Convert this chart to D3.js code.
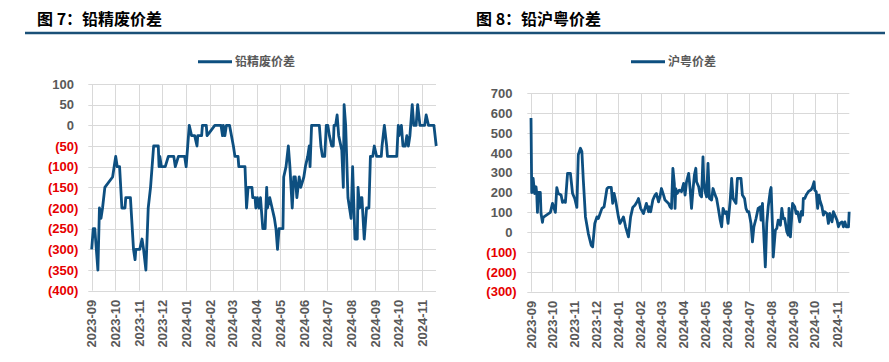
<!DOCTYPE html>
<html><head><meta charset="utf-8">
<script src="https://cdn.jsdelivr.net/npm/d3@7/dist/d3.min.js"></script>
<style>
html,body{margin:0;padding:0;background:#fff;}
svg{display:block;}
</style></head>
<body>
<svg id="c" width="889" height="362"></svg>
<script>
// ---------- DATA ----------
const titles = ["图 7：铅精废价差", "图 8：铅沪粤价差"];
const legendNames = ["铅精废价差", "沪粤价差"];
const monthLabels = ["2023-09","2023-10","2023-11","2023-12","2024-01","2024-02","2024-03","2024-04","2024-05","2024-06","2024-07","2024-08","2024-09","2024-10","2024-11"];
const leftTicks = [100,50,0,-50,-100,-150,-200,-250,-300,-350,-400];
const rightTicks = [700,600,500,400,300,200,100,0,-100,-200,-300];

const leftSeries = [
["2023-09-01",-300],["2023-09-03",-250],["2023-09-05",-250],["2023-09-09",-350],["2023-09-11",-200],
["2023-09-13",-225],["2023-09-15",-200],["2023-09-18",-150],["2023-09-28",-125],["2023-09-30",-100],
["2023-10-02",-75],["2023-10-04",-100],["2023-10-07",-100],["2023-10-10",-200],["2023-10-14",-200],
["2023-10-15",-175],["2023-10-21",-175],["2023-10-25",-300],["2023-10-27",-325],["2023-10-28",-300],
["2023-11-02",-300],["2023-11-05",-275],["2023-11-07",-300],["2023-11-10",-350],["2023-11-13",-200],
["2023-11-16",-150],["2023-11-20",-50],["2023-11-26",-50],["2023-11-27",-100],["2023-11-28",-75],
["2023-11-30",-100],["2023-12-05",-100],["2023-12-09",-75],["2023-12-16",-75],["2023-12-18",-100],
["2023-12-22",-75],["2023-12-30",-75],["2024-01-01",-100],["2024-01-05",0],["2024-01-08",-25],
["2024-01-12",-25],["2024-01-15",-50],["2024-01-16",-25],["2024-01-21",-25],["2024-01-22",0],
["2024-01-27",0],["2024-01-28",-25],["2024-02-01",-15],["2024-02-07",0],["2024-02-15",0],
["2024-02-17",-25],["2024-02-18",0],["2024-02-20",-25],["2024-02-22",0],["2024-02-26",0],
["2024-03-02",-50],["2024-03-04",-75],["2024-03-08",-75],["2024-03-09",-100],["2024-03-17",-100],
["2024-03-19",-200],["2024-03-21",-150],["2024-03-26",-150],["2024-03-27",-175],["2024-03-30",-175],
["2024-03-31",-200],["2024-04-02",-175],["2024-04-04",-200],["2024-04-06",-175],["2024-04-08",-225],
["2024-04-09",-250],["2024-04-12",-250],["2024-04-14",-150],["2024-04-15",-200],["2024-04-18",-175],
["2024-04-24",-225],["2024-04-26",-250],["2024-04-28",-300],["2024-04-30",-250],["2024-05-05",-250],
["2024-05-06",-125],["2024-05-09",-100],["2024-05-12",-50],["2024-05-14",-100],["2024-05-17",-200],
["2024-05-19",-125],["2024-05-21",-125],["2024-05-23",-175],["2024-05-26",-125],["2024-05-28",-150],
["2024-06-01",-125],["2024-06-03",-100],["2024-06-06",-75],["2024-06-08",-50],["2024-06-09",-100],
["2024-06-11",0],["2024-06-21",0],["2024-06-23",-50],["2024-06-25",-75],["2024-06-28",-75],
["2024-06-30",0],["2024-07-02",0],["2024-07-04",-25],["2024-07-07",-50],["2024-07-09",-50],
["2024-07-10",0],["2024-07-12",0],["2024-07-14",25],["2024-07-16",-25],["2024-07-20",-60],
["2024-07-22",-150],["2024-07-23",50],["2024-07-25",0],["2024-07-28",-175],["2024-07-30",-200],
["2024-08-01",-225],["2024-08-03",-100],["2024-08-06",-275],["2024-08-09",-275],["2024-08-10",-150],
["2024-08-12",-200],["2024-08-14",-175],["2024-08-15",-175],["2024-08-18",-275],["2024-08-21",-200],
["2024-08-24",-200],["2024-08-26",-75],["2024-08-29",-75],["2024-08-31",-50],["2024-09-03",-75],
["2024-09-09",-75],["2024-09-10",-50],["2024-09-13",0],["2024-09-16",-50],["2024-09-17",-75],
["2024-09-29",-75],["2024-10-01",0],["2024-10-02",-25],["2024-10-05",0],["2024-10-07",-50],
["2024-10-10",-50],["2024-10-12",-25],["2024-10-14",-50],["2024-10-16",-25],["2024-10-19",50],
["2024-10-21",0],["2024-10-24",0],["2024-10-26",50],["2024-10-29",0],["2024-11-04",0],
["2024-11-06",25],["2024-11-09",0],["2024-11-16",0],["2024-11-19",-50]
];

const rightSeries = [
["2023-09-01",575],["2023-09-02",200],["2023-09-04",271],["2023-09-06",195],["2023-09-08",229],
["2023-09-09",195],["2023-09-10",100],["2023-09-11",200],["2023-09-14",200],["2023-09-15",94],
["2023-09-17",50],["2023-09-18",75],["2023-09-28",100],["2023-10-01",145],["2023-10-05",100],
["2023-10-07",225],["2023-10-09",195],["2023-10-13",187],["2023-10-15",150],["2023-10-18",160],
["2023-10-19",150],["2023-10-22",296],["2023-10-26",296],["2023-10-29",195],["2023-11-01",170],
["2023-11-04",125],["2023-11-06",390],["2023-11-09",423],["2023-11-11",406],["2023-11-13",263],
["2023-11-16",77],["2023-11-20",-7],["2023-11-24",-66],["2023-11-26",-74],["2023-11-29",44],
["2023-12-02",77],["2023-12-04",69],["2023-12-09",120],["2023-12-12",128],["2023-12-16",220],
["2023-12-18",226],["2023-12-22",226],["2023-12-24",145],["2023-12-26",195],["2023-12-28",162],
["2024-01-01",77],["2024-01-03",44],["2024-01-07",69],["2024-01-08",77],["2024-01-11",27],
["2024-01-15",-24],["2024-01-18",77],["2024-01-21",125],["2024-01-24",136],["2024-01-27",153],
["2024-01-29",170],["2024-02-01",120],["2024-02-05",94],["2024-02-07",120],["2024-02-09",145],
["2024-02-12",103],["2024-02-13",128],["2024-02-15",103],["2024-02-18",162],["2024-02-21",187],
["2024-02-23",195],["2024-02-26",153],["2024-02-28",178],["2024-03-01",220],["2024-03-04",187],
["2024-03-06",162],["2024-03-11",145],["2024-03-13",128],["2024-03-15",120],["2024-03-17",322],
["2024-03-19",246],["2024-03-20",120],["2024-03-21",220],["2024-03-23",195],["2024-03-26",212],
["2024-03-29",204],["2024-04-01",246],["2024-04-03",187],["2024-04-05",254],["2024-04-08",296],
["2024-04-10",220],["2024-04-12",120],["2024-04-14",212],["2024-04-16",288],["2024-04-18",322],
["2024-04-19",254],["2024-04-22",229],["2024-04-24",187],["2024-04-26",178],["2024-04-28",380],
["2024-04-29",263],["2024-05-01",204],["2024-05-03",178],["2024-05-05",347],["2024-05-07",170],
["2024-05-10",162],["2024-05-12",220],["2024-05-15",187],["2024-05-17",170],["2024-05-19",128],
["2024-05-22",61],["2024-05-24",27],["2024-05-26",120],["2024-05-29",94],["2024-05-31",103],
["2024-06-02",44],["2024-06-05",162],["2024-06-07",271],["2024-06-09",170],["2024-06-13",145],
["2024-06-15",271],["2024-06-18",271],["2024-06-20",271],["2024-06-22",187],["2024-06-25",170],
["2024-06-27",120],["2024-06-29",103],["2024-07-01",103],["2024-07-04",44],["2024-07-06",-49],
["2024-07-08",27],["2024-07-11",69],["2024-07-14",120],["2024-07-17",128],["2024-07-18",61],
["2024-07-20",145],["2024-07-21",52],["2024-07-24",-175],["2024-07-26",44],["2024-07-28",128],
["2024-07-31",212],["2024-08-01",225],["2024-08-03",27],["2024-08-04",-125],["2024-08-07",10],
["2024-08-09",19],["2024-08-11",61],["2024-08-14",35],["2024-08-16",120],["2024-08-18",69],
["2024-08-20",69],["2024-08-23",2],["2024-08-25",-15],["2024-08-26",120],["2024-08-28",-24],
["2024-08-31",145],["2024-09-03",128],["2024-09-05",94],["2024-09-07",103],["2024-09-10",52],
["2024-09-12",103],["2024-09-14",86],["2024-09-15",170],["2024-09-17",170],["2024-09-19",187],
["2024-09-22",204],["2024-09-26",215],["2024-09-28",229],["2024-09-30",254],["2024-10-01",212],
["2024-10-03",204],["2024-10-05",120],["2024-10-07",187],["2024-10-08",162],["2024-10-11",128],
["2024-10-13",86],["2024-10-15",103],["2024-10-18",94],["2024-10-20",44],["2024-10-22",94],
["2024-10-25",52],["2024-10-27",103],["2024-10-29",86],["2024-11-01",61],["2024-11-03",27],
["2024-11-05",44],["2024-11-08",52],["2024-11-10",27],["2024-11-12",52],["2024-11-14",27],
["2024-11-17",27],["2024-11-18",103]
];

// ---------- DRAW ----------
const svg = d3.select("#c");
const parse = d3.utcParse("%Y-%m-%d");
const parseMonth = d3.utcParse("%Y-%m");
const lineColor = "#0d4f80";
const gridColor = "#d9d9d9";
const numFont = "'Liberation Sans', Arial, sans-serif";
const cjkFont = "'Noto Sans CJK SC', sans-serif";

// Section titles + rule
svg.append("line").attr("x1",25).attr("x2",885).attr("y1",33).attr("y2",33)
  .attr("stroke","#1a5078").attr("stroke-width",2.6);
[[37,titles[0]],[476,titles[1]]].forEach(([x,t])=>{
  svg.append("text").attr("x",x).attr("y",25).text(t)
    .attr("font-family",cjkFont).attr("font-weight",700).attr("font-size",16).attr("fill","#000");
});

function fmt(v){ return v<0 ? "("+(-v)+")" : String(v); }

function drawChart(cfg){
  const g = svg.append("g");
  const x = d3.scaleUtc().domain([parseMonth(monthLabels[0]), parseMonth(monthLabels[monthLabels.length-1])])
    .range([cfg.x0, cfg.x1]);
  const y = d3.scaleLinear().domain([cfg.ticks[cfg.ticks.length-1], cfg.ticks[0]]).range([cfg.yBot, cfg.yTop]);

  // horizontal gridlines
  g.selectAll(".hg").data(cfg.ticks).join("line")
    .attr("x1",cfg.pl).attr("x2",cfg.pr)
    .attr("y1",d=>Math.round(y(d))+0.5).attr("y2",d=>Math.round(y(d))+0.5)
    .attr("stroke",gridColor).attr("stroke-width",1);
  // vertical gridlines
  g.selectAll(".vg").data(monthLabels).join("line")
    .attr("x1",d=>Math.round(x(parseMonth(d)))+0.5).attr("x2",d=>Math.round(x(parseMonth(d)))+0.5)
    .attr("y1",cfg.yTop).attr("y2",cfg.yBot)
    .attr("stroke",gridColor).attr("stroke-width",1);

  // y labels
  g.selectAll(".yl").data(cfg.ticks).join("text")
    .attr("x",d=> d<0 ? cfg.labelX : cfg.labelX-4.3)
    .attr("y",d=>y(d)).attr("dy","0.36em")
    .attr("text-anchor","end")
    .attr("font-family",numFont).attr("font-weight",700).attr("font-size",13)
    .attr("fill",d=> d<0 ? "#e60000" : "#595959")
    .text(fmt);

  // x labels
  g.selectAll(".xl").data(monthLabels).join("text")
    .attr("transform",d=>`translate(${x(parseMonth(d))},${cfg.yBot+9}) rotate(-90)`)
    .attr("text-anchor","end").attr("dy","0.36em")
    .attr("font-family",numFont).attr("font-weight",700).attr("font-size",13)
    .attr("fill","#595959")
    .text(d=>d);

  // series line
  const line = d3.line().x(d=>x(parse(d[0]))).y(d=>y(d[1]));
  g.append("path").datum(cfg.data).attr("d",line)
    .attr("fill","none").attr("stroke",lineColor).attr("stroke-width",2.8)
    .attr("stroke-linejoin","round");

  // legend
  g.append("line").attr("x1",cfg.legX).attr("x2",cfg.legX+34).attr("y1",61.7).attr("y2",61.7)
    .attr("stroke",lineColor).attr("stroke-width",3);
  g.append("text").attr("x",cfg.legX+37).attr("y",61.7).attr("dy","0.36em")
    .attr("font-family",cjkFont).attr("font-weight",700).attr("font-size",12).attr("fill","#595959")
    .text(cfg.name);
}

drawChart({data:leftSeries, ticks:leftTicks, name:legendNames[0],
  x0:91.7, x1:422.3, pl:88.3, pr:436, yTop:84, yBot:290.7, labelX:78.3, legX:198});
drawChart({data:rightSeries, ticks:rightTicks, name:legendNames[1],
  x0:531, x1:837, pl:527.3, pr:849.3, yTop:93.3, yBot:291.7, labelX:516.7, legX:631});
</script>
</body></html>
